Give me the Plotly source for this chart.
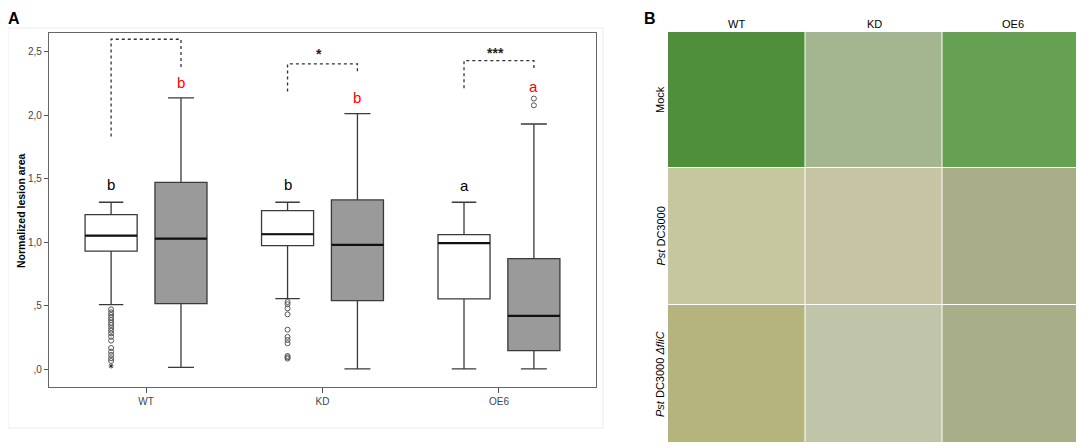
import plotly.graph_objects as go

# ---------------- data (panel A) ----------------
genotypes = ["WT", "KD", "OE6"]
# white boxes
white_upper = [1.315, 1.315, 1.315]
white_q3 = [1.217, 1.249, 1.060]
white_median = [1.052, 1.063, 0.994]
white_q1 = [0.931, 0.973, 0.554]
white_lower = [0.509, 0.556, 0.003]
# grey boxes
grey_upper = [2.136, 2.013, 1.931]
grey_q3 = [1.472, 1.333, 0.871]
grey_median = [1.028, 0.979, 0.420]
grey_q1 = [0.517, 0.541, 0.147]
grey_lower = [0.016, 0.003, 0.003]

wt_white_outliers = [0.472, 0.449, 0.428, 0.407, 0.388, 0.367, 0.349, 0.325, 0.304,
                     0.283, 0.257, 0.226, 0.168, 0.139, 0.113, 0.087, 0.066]
wt_white_extreme = [0.026]
kd_white_outliers = [0.530, 0.512, 0.480, 0.433, 0.312, 0.255, 0.231, 0.205, 0.105, 0.095, 0.085]
oe6_grey_outliers = [2.131, 2.078]

white_letters = ["b", "b", "a"]
white_letter_y = [1.456, 1.451, 1.448]
grey_letters = ["b", "b", "a"]
grey_letter_y = [2.259, 2.141, 2.225]

bracket_left_y = [1.832, 2.186, 2.212]
bracket_top_y = [2.598, 2.404, 2.430]
bracket_right_y = [2.362, 2.343, 2.364]
signif = ["", "*", "***"]
signif_y = [2.48, 2.48, 2.49]

y_tickvals = [0, 0.5, 1.0, 1.5, 2.0, 2.5]
y_ticktext = [",0", ",5", "1,0", "1,5", "2,0", "2,5"]

# ---------------- panel B labels ----------------
photo_cols = ["WT", "KD", "OE6"]
photo_rows = ["Mock", "<i>Pst</i> DC3000", "<i>Pst</i> DC3000 <i>ΔfliC</i>"]
photo_colors = [
    ["#4f8f3b", "#a3b690", "#66a052"],
    ["#c6c79f", "#c7c3a5", "#a9ae88"],
    ["#b5b47c", "#c0c5aa", "#a8af88"],
]

# page body has an 8px margin; the figure is sized/placed to compensate
OFF = 8
W, H = 1084 - OFF, 448 - OFF


def px(x):
    return (x - OFF) / W


def py(y):
    return 1 - (y - OFF) / H


pos = [0, 1, 2]
off = 0.198
xw = [p - off for p in pos]
xg = [p + off for p in pos]
bw = 0.295
FONT = "Liberation Sans, Arial, sans-serif"

fig = go.Figure()

fig.add_trace(go.Box(x=xw, q1=white_q1, median=white_median, q3=white_q3,
                     lowerfence=white_lower, upperfence=white_upper,
                     width=bw, whiskerwidth=0.47, fillcolor="white",
                     line=dict(color="#3a3a3a", width=1.3), boxpoints=False,
                     showlegend=False, hoverinfo="skip"))
fig.add_trace(go.Box(x=xg, q1=grey_q1, median=grey_median, q3=grey_q3,
                     lowerfence=grey_lower, upperfence=grey_upper,
                     width=bw, whiskerwidth=0.5, fillcolor="#9a9a9a",
                     line=dict(color="#3a3a3a", width=1.3), boxpoints=False,
                     showlegend=False, hoverinfo="skip"))

# thicker median lines
for xs, meds in ((xw, white_median), (xg, grey_median)):
    mx, my = [], []
    for x, m in zip(xs, meds):
        mx += [x - bw / 2, x + bw / 2, None]
        my += [m, m, None]
    fig.add_trace(go.Scatter(x=mx, y=my, mode="lines", line=dict(color="#111", width=2.2),
                             showlegend=False, hoverinfo="skip"))

# outliers
circ = dict(symbol="circle-open", size=5, color="#555", line=dict(width=1))
fig.add_trace(go.Scatter(x=[xw[0]] * len(wt_white_outliers), y=wt_white_outliers,
                         mode="markers", marker=circ, showlegend=False))
fig.add_trace(go.Scatter(x=[xw[1]] * len(kd_white_outliers), y=kd_white_outliers,
                         mode="markers", marker=circ, showlegend=False))
fig.add_trace(go.Scatter(x=[xg[2]] * len(oe6_grey_outliers), y=oe6_grey_outliers,
                         mode="markers", marker=circ, showlegend=False))
fig.add_trace(go.Scatter(x=[xw[0]] * len(wt_white_extreme), y=wt_white_extreme,
                         mode="markers", marker=dict(symbol="asterisk-open", size=4,
                                                     color="#333", line=dict(width=1)),
                         showlegend=False))

# brackets
bx, by = [], []
for i in range(3):
    bx += [xw[i], xw[i], xg[i], xg[i], None]
    by += [bracket_left_y[i], bracket_top_y[i], bracket_top_y[i], bracket_right_y[i], None]
fig.add_trace(go.Scatter(x=bx, y=by, mode="lines",
                         line=dict(color="#333", width=1.3, dash="dot"),
                         showlegend=False, hoverinfo="skip"))

annotations = []
for i in range(3):
    annotations.append(dict(x=xw[i], y=white_letter_y[i], xref="x", yref="y",
                            text=white_letters[i], showarrow=False,
                            font=dict(family=FONT, size=15, color="black")))
    annotations.append(dict(x=xg[i], y=grey_letter_y[i], xref="x", yref="y",
                            text=grey_letters[i], showarrow=False,
                            font=dict(family=FONT, size=15, color="red")))
    if signif[i]:
        annotations.append(dict(x=pos[i] - 0.02, y=signif_y[i], xref="x", yref="y",
                                text="<b>" + signif[i] + "</b>", showarrow=False,
                                font=dict(family=FONT, size=14, color="#222")))

# panel letters (top of figure area)
annotations.append(dict(x=px(14), y=1, xref="paper", yref="paper",
                        text="<b>A</b>", showarrow=False, xanchor="center", yanchor="top",
                        font=dict(family=FONT, size=16, color="black")))
annotations.append(dict(x=px(650), y=1, xref="paper", yref="paper",
                        text="<b>B</b>", showarrow=False, xanchor="center", yanchor="top",
                        font=dict(family=FONT, size=16, color="black")))

# panel B grid
col_edges = [668, 805.5, 942.5, 1083]
row_edges = [32, 168, 305, 443]
shapes = []
shapes.append(dict(type="rect", xref="paper", yref="paper", x0=0, x1=px(603),
                   y0=py(428), y1=py(28), line=dict(color="#ececec", width=1),
                   layer="below"))
for r in range(3):
    for c in range(3):
        shapes.append(dict(type="rect", xref="paper", yref="paper",
                           x0=px(col_edges[c]), x1=px(col_edges[c + 1] - 1),
                           y0=py(row_edges[r + 1] - 1), y1=py(row_edges[r]),
                           fillcolor=photo_colors[r][c], line=dict(width=0)))
for c in range(3):
    annotations.append(dict(x=px((col_edges[c] + col_edges[c + 1]) / 2), y=py(24),
                            xref="paper", yref="paper", xanchor="center", yanchor="middle",
                            text=photo_cols[c], showarrow=False,
                            font=dict(family=FONT, size=11, color="black")))
for r in range(3):
    annotations.append(dict(x=px(660), y=py((row_edges[r] + row_edges[r + 1]) / 2),
                            xref="paper", yref="paper", text=photo_rows[r], showarrow=False,
                            textangle=-90, xanchor="center", yanchor="middle",
                            font=dict(family=FONT, size=11, color="black")))

# y axis title
annotations.append(dict(x=px(21), y=py(211), xref="paper", yref="paper",
                        xanchor="center", yanchor="middle",
                        text="<b>Normalized lesion area</b>", showarrow=False, textangle=-90,
                        font=dict(family=FONT, size=10.5, color="black")))

fig.update_layout(
    width=W, height=H, margin=dict(l=0, r=0, t=0, b=0),
    paper_bgcolor="white", plot_bgcolor="white", boxmode="overlay",
    showlegend=False,
    xaxis=dict(domain=[px(49), px(596)], range=[-0.55, 2.55],
               tickvals=pos, ticktext=genotypes, ticks="outside", ticklen=5,
               tickcolor="#555", showgrid=False, zeroline=False,
               showline=True, linecolor="#666", linewidth=1.3, mirror=True,
               tickfont=dict(family=FONT, size=10, color="#444")),
    yaxis=dict(domain=[py(387), py(33)], range=[-0.139, 2.647],
               tickvals=y_tickvals, ticktext=y_ticktext, ticks="outside", ticklen=4,
               tickcolor="#555", showgrid=False, zeroline=False,
               showline=True, linecolor="#666", linewidth=1.3, mirror=True,
               tickfont=dict(family=FONT, size=10, color="#444")),
    annotations=annotations, shapes=shapes,
)

fig.write_html("out.html")
